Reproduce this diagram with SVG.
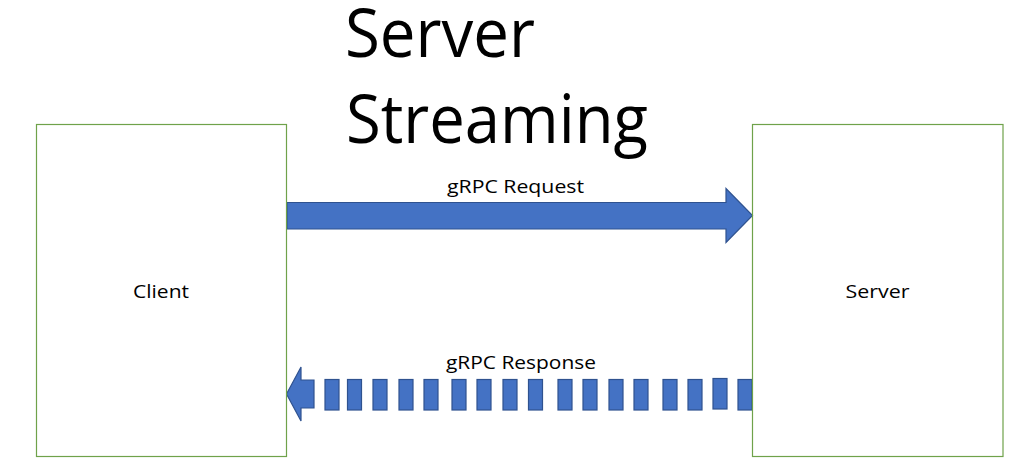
<svg xmlns="http://www.w3.org/2000/svg" width="1017" height="473" viewBox="0 0 1017 473">
<style>
.box{fill:none;stroke:#6FA24A;stroke-width:1.2}
.arr{fill:#4472C4;stroke:#2F528F;stroke-width:1.2;stroke-linejoin:miter}
.lbl{font-family:"Open Sans","Liberation Sans",sans-serif;font-size:19px;fill:#000}
.ttl{font-family:"Open Sans","Liberation Sans",sans-serif;font-size:67px;fill:#000}
</style>
<rect width="1017" height="473" fill="#fff"/>
<g id="title">
<text class="ttl" x="345" y="57" textLength="190" lengthAdjust="spacingAndGlyphs">Server</text>
<text class="ttl" x="346" y="143" textLength="302" lengthAdjust="spacingAndGlyphs">Streaming</text>
</g>
<g id="connectors">
<g id="request">
<polygon class="arr" points="287,202.5 726,202.5 726,188.5 752.5,215.5 726,242.5 726,229 287,229"/>
<text class="lbl" x="447" y="193" textLength="137" lengthAdjust="spacingAndGlyphs">gRPC Request</text>
</g>
<g id="response">
<polygon class="arr" points="286.5,394 301,367 301,380 314,380 314,408 301,408 301,421"/>
<rect class="arr" x="325" y="379.5" width="14" height="30.5"/>
<rect class="arr" x="347.5" y="379.5" width="14" height="30.5"/>
<rect class="arr" x="373" y="379.5" width="14" height="30.5"/>
<rect class="arr" x="399" y="379.5" width="14" height="30.5"/>
<rect class="arr" x="424" y="379.5" width="14" height="30.5"/>
<rect class="arr" x="452" y="379.5" width="14" height="30.5"/>
<rect class="arr" x="477" y="379.5" width="14" height="30.5"/>
<rect class="arr" x="503" y="379.5" width="14" height="30.5"/>
<rect class="arr" x="528.5" y="379.5" width="14" height="30.5"/>
<rect class="arr" x="558" y="379.5" width="14" height="30.5"/>
<rect class="arr" x="583" y="379.5" width="14" height="30.5"/>
<rect class="arr" x="609" y="379.5" width="14" height="30.5"/>
<rect class="arr" x="634" y="379.5" width="14" height="30.5"/>
<rect class="arr" x="663" y="379.5" width="14" height="30.5"/>
<rect class="arr" x="688" y="379.5" width="14" height="30.5"/>
<rect class="arr" x="713" y="378.5" width="14" height="30.5"/>
<rect class="arr" x="738" y="379.5" width="14" height="30.5"/>
<text class="lbl" x="446" y="368.5" textLength="150" lengthAdjust="spacingAndGlyphs">gRPC Response</text>
</g>
</g>
<g id="client">
<rect class="box" x="36.5" y="124.5" width="250" height="332"/>
<text class="lbl" x="133" y="297.5" textLength="56" lengthAdjust="spacingAndGlyphs">Client</text>
</g>
<g id="server">
<rect class="box" x="752.5" y="124.5" width="250.5" height="332"/>
<text class="lbl" x="845.5" y="297.5" textLength="64" lengthAdjust="spacingAndGlyphs">Server</text>
</g>
</svg>
